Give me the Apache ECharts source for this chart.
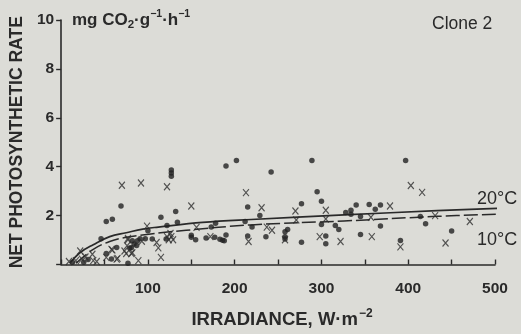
<!DOCTYPE html>
<html><head><meta charset="utf-8">
<script src="https://cdn.jsdelivr.net/npm/echarts@6/dist/echarts.min.js"></script>
<style>html,body{margin:0;padding:0;background:#dcdcd7}#c{width:521px;height:334px}</style>
</head><body><div id="c"></div>
<script>
// Measured points: filled dots
const dots = [
 [190,4.03],[202,4.25],[242,3.78],[289,4.25],[397,4.25],
 [127,3.87],[127,3.74],[127,3.61],
 [69,2.39],[52,1.76],[59,1.85],[46,1.05],[100,1.38],[132,2.17],[115,1.93],[215,2.35],
 [122,1.6],[134,1.73],[178,1.69],[212,1.76],[173,1.53],[121,1.04],[150,1.2],[150,1.11],
 [155,1.01],[167,1.08],[177,1.11],[183,1.03],[186,0.99],[188,0.97],[190,1.21],[215,1.17],
 [295,2.98],[300,2.59],[277,2.48],[229,2.0],[300,1.64],[220,1.53],[261,1.43],[258,1.34],
 [316,1.6],[320,1.43],[236,1.14],[258,1.14],[258,1.04],[277,0.91],[305,1.17],[305,0.85],
 [340,2.43],[355,2.45],[362,2.26],[368,2.43],[334,2.22],[328,2.13],[334,2.06],[345,1.96],
 [414,1.96],[420,1.67],[368,1.57],[345,1.23],[391,0.98],[450,1.37],
 [13,0.09],[26,0.09],[31,0.2],[52,0.45],[58,0.22],[64,0.7],[77,0.05],[81,0.68],[84,0.84],
 [87,0.78],[82,0.97],[88,0.97],[91,1.05],[97,1.05],[105,1.04],[79,0.67]
];
// Measured points: crosses
const crosses = [
 [70,3.24],[92,3.33],[122,3.18],[213,2.94],[403,3.23],[416,2.95],[150,2.39],[231,2.32],
 [270,2.19],[305,2.22],[271,1.82],[305,1.86],[379,2.39],[357,1.93],[431,2.0],[471,1.76],
 [443,0.88],[358,1.14],[391,0.72],[322,0.94],[298,1.14],[258,1.01],[237,1.53],[243,1.4],
 [216,0.94],[156,1.52],[172,1.14],[122,1.14],[127,1.14],[124,1.01],[129,1.01],[110,0.9],
 [112,0.68],[115,0.29],[99,1.57],[77,1.07],[93,0.95],[73,0.55],[81,0.45],[75,0.45],
 [58,0.62],[52,0.29],[65,0.25],[22,0.55],[9,0.12],[17,0.16],[24,0.22],[28,0.31],[36,0.42],
 [37,0.16],[41,0.12],[64,0.22],[59,0.59],[76,0.77],[82,0.48],[77,1.01],[89,0.16],[126,1.27]
];
// Fitted curves
const curve20 = [[10,0.05],[22,0.49],[37,0.81],[56,1.14],[75,1.3],[94,1.45],[112,1.53],[163,1.72],[219,1.84],[326,2.03],[433,2.2],[503,2.3]];
const curve10 = [[17,0.05],[37,0.62],[56,0.94],[75,1.11],[101,1.24],[144,1.4],[219,1.62],[326,1.78],[433,1.97],[503,2.06]];
const xTickLabels = [100,200,300,400,500];
const yTickLabels = [2,4,6,8,10];

const ink = '#2a2a2a';
const font = 'Liberation Sans, Arial, sans-serif';
const chart = echarts.init(document.getElementById('c'));
chart.setOption({
  backgroundColor: '#dcdcd7',
  animation: false,
  grid: {left: 51, right: 26, top: 20, bottom: 60},
  xAxis: {
    type: 'value', min: 0, max: 500, interval: 50,
    axisLine: {lineStyle: {color: ink, width: 1.6}},
    axisTick: {inside: true, length: 5, lineStyle: {color: ink, width: 1.4}},
    splitLine: {show: false},
    axisLabel: {margin: 16, color: ink, fontSize: 15.5, fontWeight: 'bold', fontFamily: font,
      formatter: v => xTickLabels.includes(v) ? String(v) : ''},
    name: '{a|IRRADIANCE, W·m}{s|−2}', nameLocation: 'middle', nameGap: 43,
    nameTextStyle: {rich: {
      a: {fontSize: 18.5, fontWeight: 'bold', color: ink, fontFamily: font},
      s: {fontSize: 12, fontWeight: 'bold', color: ink, fontFamily: font, verticalAlign: 'top', padding: [0,0,12,1]}
    }, padding: [0,0,0,8]}
  },
  yAxis: {
    type: 'value', min: 0, max: 10, interval: 2,
    axisLine: {show: true, lineStyle: {color: ink, width: 1.6}},
    axisTick: {show: true, length: 5, lineStyle: {color: ink, width: 1.4}},
    splitLine: {show: false},
    axisLabel: {margin: 7, color: ink, fontSize: 15.5, fontWeight: 'bold', fontFamily: font,
      formatter: v => yTickLabels.includes(v) ? String(v) : ''},
    name: 'NET PHOTOSYNTHETIC RATE', nameLocation: 'middle', nameGap: 31,
    nameTextStyle: {fontSize: 17.5, fontWeight: 'bold', color: ink, fontFamily: font}
  },
  graphic: [
    {type: 'text', left: 72, top: 9, style: {
      text: '{a|mg CO}{b|2}{a|·g}{c|−1}{a|·h}{c|−1}',
      rich: {
        a: {fontSize: 17, fontWeight: 'bold', fill: ink, fontFamily: font},
        b: {fontSize: 11.5, fontWeight: 'bold', fill: ink, fontFamily: font, padding: [8,0,0,0]},
        c: {fontSize: 10.5, fontWeight: 'bold', fill: ink, fontFamily: font, padding: [0,0,12,0]}
      }}},
    {type: 'text', left: 432, top: 15, style: {text: 'Clone 2', fontSize: 17.5, fill: ink, fontFamily: font}},
    {type: 'text', left: 477, top: 190, style: {text: '20°C', fontSize: 18, fill: ink, fontFamily: font}},
    {type: 'text', left: 477, top: 231, style: {text: '10°C', fontSize: 18, fill: ink, fontFamily: font}}
  ],
  series: [
    {name: '20°C fit', type: 'line', data: curve20, smooth: 0.4, symbol: 'none',
     lineStyle: {color: ink, width: 1.7}, z: 3},
    {name: '10°C fit', type: 'line', data: curve10, smooth: 0.4, symbol: 'none',
     lineStyle: {color: ink, width: 1.5, type: [14, 4]}, z: 3},
    {name: 'dots', type: 'scatter', data: dots, symbol: 'circle', symbolSize: 5.5,
     itemStyle: {color: '#222'}, z: 4},
    {name: 'crosses', type: 'scatter', data: crosses, symbol: 'path://M0,0L10,12M10,0L0,12', symbolSize: [6,7],
     itemStyle: {color: 'rgba(0,0,0,0)', borderColor: '#2e2e2e', borderWidth: 1.2}, z: 4}
  ]
});
</script></body></html>
